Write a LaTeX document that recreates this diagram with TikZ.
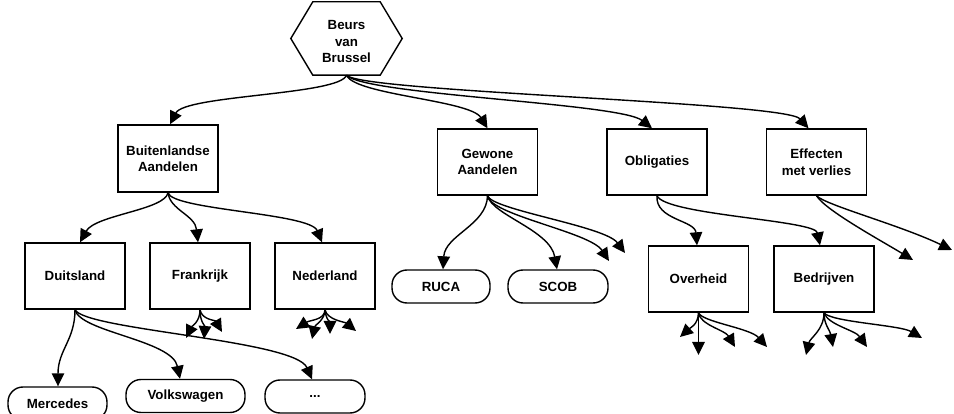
\documentclass[tikz,border=0pt]{standalone}
\usepackage{fontspec}
\setmainfont{Liberation Sans}
\usetikzlibrary{arrows.meta,calc}
\begin{document}
\begin{tikzpicture}[x=1pt,y=-1pt,
  every node/.style={font=\fontsize{13.3}{16.5}\selectfont\bfseries, align=center, inner sep=0pt},
  box/.style={draw, line width=1.4pt, minimum width=100pt, minimum height=66pt},
  pill/.style={draw, line width=1.4pt, rounded corners=15pt, minimum width=99pt, minimum height=33pt},
  edge/.style={line width=1.4pt, -{Triangle[length=13pt,width=12.5pt]}}]
\useasboundingbox (0,0) rectangle (954,414);
\clip (0,0) rectangle (954,414);

% root: hexagon drawn around an empty frame node, label set on top
\node[minimum width=111pt, minimum height=73pt] (beurs) at (346.5,38.5) {};
\draw[line width=1.4pt] (beurs.west) -- ([xshift=22pt]beurs.north west) -- ([xshift=-22pt]beurs.north east)
  -- (beurs.east) -- ([xshift=-22pt]beurs.south east) -- ([xshift=22pt]beurs.south west) -- cycle;
\node (beurslabel) at (346.5,41.5) {Beurs\\van\\Brussel};

% second level
\node[box, minimum height=67pt] (buit) at (168,158.5) {Buitenlandse\\Aandelen};
\node[box] (gewone) at (487.5,162) {Gewone\\Aandelen};
\node[box] (oblig) at (657,162) {Obligaties};
\node[box] (effect) at (816.5,162) {Effecten\\met verlies};

% third level
\node[box] (duits) at (75,276) {Duitsland};
\node[box] (frank) at (200,276) {Frankrijk};
\node[box] (neder) at (325,276) {Nederland};
\node[pill, minimum width=98pt] (ruca) at (441,286.5) {RUCA};
\node[pill, minimum width=100pt] (scob) at (558,286.5) {SCOB};
\node[box] (overheid) at (698.5,279) {Overheid};
\node[box] (bedrijven) at (824,279) {Bedrijven};

% fourth level
\node[pill] (mercedes) at (57.5,403.5) {Mercedes};
\node[pill, minimum width=119pt] (volks) at (185.5,396) {Volkswagen};
\node[pill, minimum width=100pt] (dots) at (315,396.5) {...};

% free ends of open connectors
\coordinate (f1) at (186,338);
\coordinate (f2) at (204,339);
\coordinate (f3) at (222,332);
\coordinate (n1) at (296,329);
\coordinate (n2) at (312,339);
\coordinate (n3) at (330,334);
\coordinate (n4) at (356,331);
\coordinate (g3) at (609,261);
\coordinate (g4) at (625,253);
\coordinate (e1) at (913,260);
\coordinate (e2) at (952,250);
\coordinate (o1) at (680,337);
\coordinate (o2) at (698.5,355);
\coordinate (o3) at (735,347);
\coordinate (o4) at (767,347);
\coordinate (b1) at (806,355);
\coordinate (b2) at (833,347);
\coordinate (b3) at (867,347);
\coordinate (b4) at (922,338);

% root connectors
\draw[edge] (beurs.south) .. controls (340,95) and (185,95) .. ([xshift=2pt]buit.north);
\draw[edge] (beurs.south) .. controls (355,95) and (470,100) .. (gewone.north);
\draw[edge] (beurs.south) .. controls (365,95) and (620,103) .. ([xshift=-5pt]oblig.north);
\draw[edge] (beurs.south) .. controls (360,92) and (785,102) .. ([xshift=-8pt]effect.north);

% Buitenlandse Aandelen
\draw[edge] (buit.south) .. controls (165,210) and (95,215) .. ([xshift=5pt]duits.north);
\draw[edge] (buit.south) .. controls (170,210) and (195,215) .. ([xshift=-2pt]frank.north);
\draw[edge] (buit.south) .. controls (172,210) and (310,213) .. ([xshift=-3pt]neder.north);

% Duitsland
\draw[edge] (duits.south) .. controls (75,340) and (58,350) .. ([xshift=0.5pt]mercedes.north);
\draw[edge] (duits.south) .. controls (80,332) and (172,340) .. ([xshift=-5.5pt]volks.north);
\draw[edge] (duits.south) .. controls (85,330) and (295,340) .. ([xshift=-3pt]dots.north);

% Frankrijk
\draw[edge] (frank.south) .. controls (200,322) and (192,326) .. (f1);
\draw[edge] (frank.south) .. controls (200,322) and (205,326) .. (f2);
\draw[edge] (frank.south) .. controls (202,320) and (215,320) .. (f3);

% Nederland
\draw[edge] (neder.south) .. controls (325,320) and (310,320) .. (n1);
\draw[edge] (neder.south) .. controls (325,320) and (315,325) .. (n2);
\draw[edge] (neder.south) .. controls (326,320) and (330,322) .. (n3);
\draw[edge] (neder.south) .. controls (327,320) and (345,322) .. (n4);

% Gewone Aandelen
\draw[edge] (gewone.south) .. controls (487,225) and (445,235) .. ([xshift=2pt]ruca.north);
\draw[edge] (gewone.south) .. controls (492,215) and (550,230) .. ([xshift=-1pt]scob.north);
\draw[edge] (gewone.south) .. controls (490,215) and (590,232) .. (g3);
\draw[edge] (gewone.south) .. controls (492,210) and (605,226) .. (g4);

% Obligaties
\draw[edge] (oblig.south) .. controls (655,220) and (695,220) .. ([xshift=-1.5pt]overheid.north);
\draw[edge] (oblig.south) .. controls (665,215) and (815,220) .. ([xshift=-4pt]bedrijven.north);

% Effecten met verlies
\draw[edge] (effect.south) .. controls (825,210) and (880,240) .. (e1);
\draw[edge] (effect.south) .. controls (825,205) and (900,225) .. (e2);

% Overheid
\draw[edge] (overheid.south) .. controls (698,325) and (690,328) .. (o1);
\draw[edge] (overheid.south) -- (o2);
\draw[edge] (overheid.south) .. controls (700,325) and (725,330) .. (o3);
\draw[edge] (overheid.south) .. controls (702,322) and (750,328) .. (o4);

% Bedrijven
\draw[edge] (bedrijven.south) .. controls (824,330) and (810,338) .. (b1);
\draw[edge] (bedrijven.south) .. controls (824,325) and (830,330) .. (b2);
\draw[edge] (bedrijven.south) .. controls (828,325) and (855,330) .. (b3);
\draw[edge] (bedrijven.south) .. controls (830,322) and (900,325) .. (b4);
\end{tikzpicture}
\end{document}
